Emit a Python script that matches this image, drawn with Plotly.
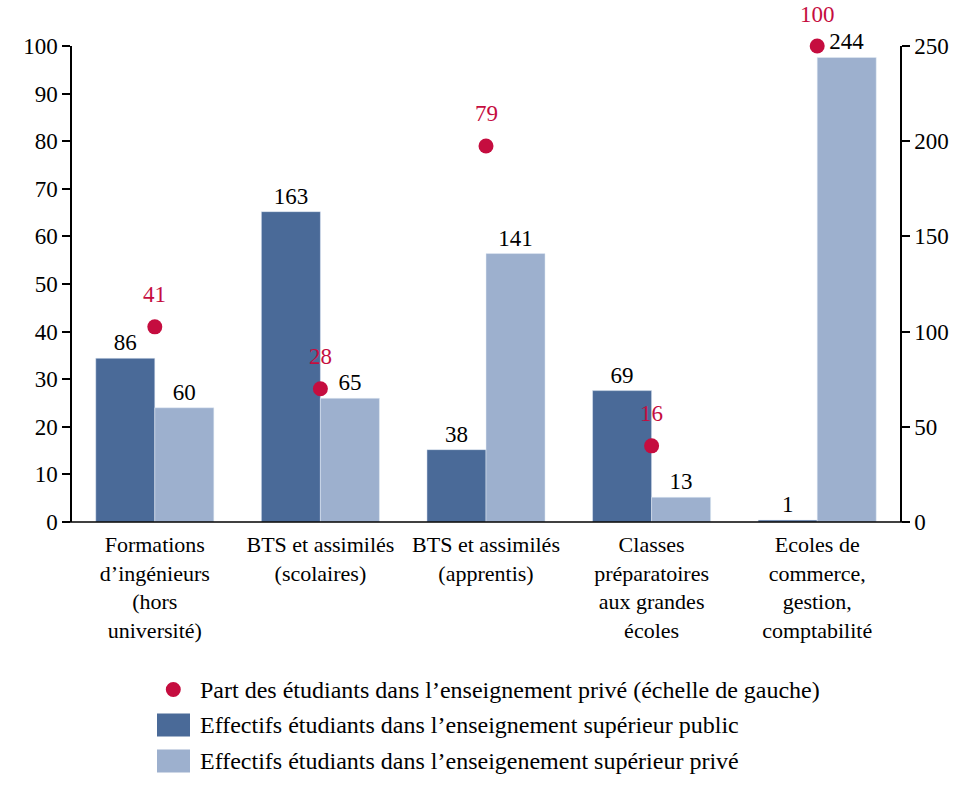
import plotly.graph_objects as go

categories = [
    "Formations<br>d’ingénieurs<br>(hors<br>université)",
    "BTS et assimilés<br>(scolaires)",
    "BTS et assimilés<br>(apprentis)",
    "Classes<br>préparatoires<br>aux grandes<br>écoles",
    "Ecoles de<br>commerce,<br>gestion,<br>comptabilité",
]
public_counts = [86, 163, 38, 69, 1]
private_counts = [60, 65, 141, 13, 244]
private_share = [41, 28, 79, 16, 100]

legend_labels = [
    "Part des étudiants dans l’enseignement privé (échelle de gauche)",
    "Effectifs étudiants dans l’enseignement supérieur public",
    "Effectifs étudiants dans l’enseigenement supérieur privé",
]

DARK = "#4A6A98"
LIGHT = "#9DB0CE"
RED = "#C50D3F"
FONT = "'Liberation Serif', 'Times New Roman', serif"
FS = 23

W, H = 971, 790
L, R, T, B = 72, 71, 46, 268
PW = W - L - R
PH = H - T - B


def px_x(px):
    return (px - L) / PW


def px_y(py):
    return (H - B - py) / PH


fig = go.Figure()
fig.add_trace(go.Bar(
    x=categories, y=public_counts, name=legend_labels[1], marker_color=DARK,
    text=public_counts, textposition="outside", cliponaxis=False,
    textfont=dict(color="black", size=FS, family=FONT), yaxis="y",
))
fig.add_trace(go.Bar(
    x=categories, y=private_counts, name=legend_labels[2], marker_color=LIGHT,
    text=private_counts, textposition="outside", cliponaxis=False,
    textfont=dict(color="black", size=FS, family=FONT), yaxis="y",
))
fig.add_trace(go.Scatter(
    x=categories, y=private_share, name=legend_labels[0], mode="markers",
    marker=dict(color=RED, size=15), yaxis="y2", cliponaxis=False,
))

annotations = []
for c, v in zip(categories, private_share):
    annotations.append(dict(
        x=c, y=v, xref="x", yref="y2", text=str(v), showarrow=False,
        yshift=32, font=dict(color=RED, size=FS, family=FONT),
    ))

# custom legend
rows_y = [689.5, 725, 761]
shapes = []
shapes.append(dict(type="circle", xref="paper", yref="paper",
                   x0=px_x(165.8), x1=px_x(180.8), y0=px_y(rows_y[0] + 7.5), y1=px_y(rows_y[0] - 7.5),
                   fillcolor=RED, line=dict(width=0)))
for yy, col in zip(rows_y[1:], [DARK, LIGHT]):
    shapes.append(dict(type="rect", xref="paper", yref="paper",
                       x0=px_x(157), x1=px_x(190), y0=px_y(yy + 11.5), y1=px_y(yy - 11.5),
                       fillcolor=col, line=dict(width=0)))
for yy, lab in zip(rows_y, legend_labels):
    annotations.append(dict(
        x=px_x(198), y=px_y(yy), xref="paper", yref="paper", text=lab,
        showarrow=False, xanchor="left", yanchor="middle",
        font=dict(color="black", size=24, family=FONT),
    ))

# x axis baseline extending slightly past both y axes
shapes.append(dict(type="line", xref="paper", yref="paper",
                   x0=px_x(63), x1=px_x(908), y0=0, y1=0,
                   line=dict(color="black", width=1.5), layer="above"))

fig.update_layout(
    width=W, height=H,
    margin=dict(l=L, r=R, t=T, b=B, pad=0),
    paper_bgcolor="white", plot_bgcolor="white",
    font=dict(family=FONT, size=FS, color="black"),
    barmode="group", bargap=0.287, bargroupgap=0,
    showlegend=False,
    xaxis=dict(showgrid=False, showline=False, ticks="", tickangle=0, ticklabelstandoff=7,
               tickfont=dict(size=22, family=FONT, color="black"), zeroline=False),
    yaxis=dict(side="right", range=[0, 250], dtick=50, showgrid=False, zeroline=False,
               showline=True, linecolor="black", linewidth=1.5,
               ticks="outside", ticklen=8, tickcolor="black", tickwidth=1.5,
               tickfont=dict(size=FS, family=FONT, color="black")),
    yaxis2=dict(side="left", overlaying="y", range=[0, 100], dtick=10, showgrid=False, zeroline=False,
                showline=True, linecolor="black", linewidth=1.5,
                ticks="outside", ticklen=8, tickcolor="black", tickwidth=1.5,
                tickfont=dict(size=FS, family=FONT, color="black")),
    annotations=annotations,
    shapes=shapes,
)

fig.write_html("out.html", config={"displayModeBar": False},
               post_script="document.body.style.margin='0px';")
